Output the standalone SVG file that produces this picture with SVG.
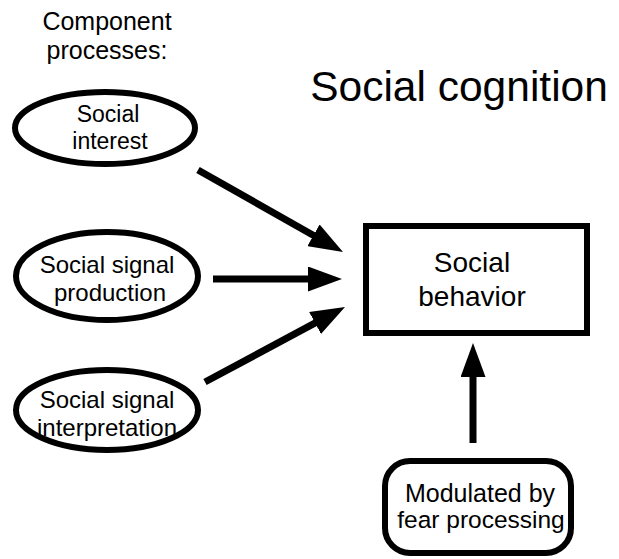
<svg xmlns="http://www.w3.org/2000/svg" width="619" height="559" viewBox="0 0 619 559">
<style>
  text { font-family: "Liberation Sans", Arial, sans-serif; fill: #000; text-anchor: middle; }
  .shape { fill: #fff; stroke: #000; stroke-width: 6; }
  .conn { fill: none; stroke: #000; stroke-width: 7; }
</style>
<defs>
  <marker id="head" viewBox="0 0 34 25" refX="14" refY="12.5" markerWidth="34" markerHeight="25" markerUnits="userSpaceOnUse" orient="auto">
    <path d="M0,0 L34,12.5 L0,25 Z" fill="#000"/>
  </marker>
</defs>
<rect width="619" height="559" fill="#fff"/>
<text x="107" y="30" font-size="25">Component</text>
<text x="107" y="59" font-size="25">processes:</text>
<text x="459" y="101" font-size="42.5">Social cognition</text>
<g id="interest">
  <ellipse class="shape" cx="105" cy="128" rx="90" ry="36"/>
  <text x="108" y="122" font-size="23">Social</text>
  <text x="110" y="149" font-size="23">interest</text>
</g>
<g id="production">
  <ellipse class="shape" cx="107" cy="276" rx="91" ry="44"/>
  <text x="107" y="273" font-size="24">Social signal</text>
  <text x="110" y="301" font-size="24">production</text>
</g>
<g id="interpretation">
  <ellipse class="shape" cx="107" cy="410" rx="91" ry="40"/>
  <text x="107" y="408" font-size="24">Social signal</text>
  <text x="107" y="436" font-size="24">interpretation</text>
</g>
<g id="behavior">
  <rect class="shape" x="366" y="226" width="221" height="107" stroke-width="6.5"/>
  <text x="472" y="272" font-size="28">Social</text>
  <text x="472" y="306" font-size="28">behavior</text>
</g>
<g id="fear">
  <rect class="shape" x="385" y="461" width="186" height="92" rx="25" ry="25"/>
  <text x="480" y="502" font-size="25">Modulated by</text>
  <text x="481" y="528" font-size="24.5">fear processing</text>
</g>
<g id="connectors">
  <path class="conn" d="M198,170 L325.6,242.2" marker-end="url(#head)"/>
  <path class="conn" d="M213,279 L322,279" marker-end="url(#head)"/>
  <path class="conn" d="M205,382 L327.4,316.4" marker-end="url(#head)"/>
  <path class="conn" d="M473,443 L473,363" marker-end="url(#head)"/>
</g>
</svg>
